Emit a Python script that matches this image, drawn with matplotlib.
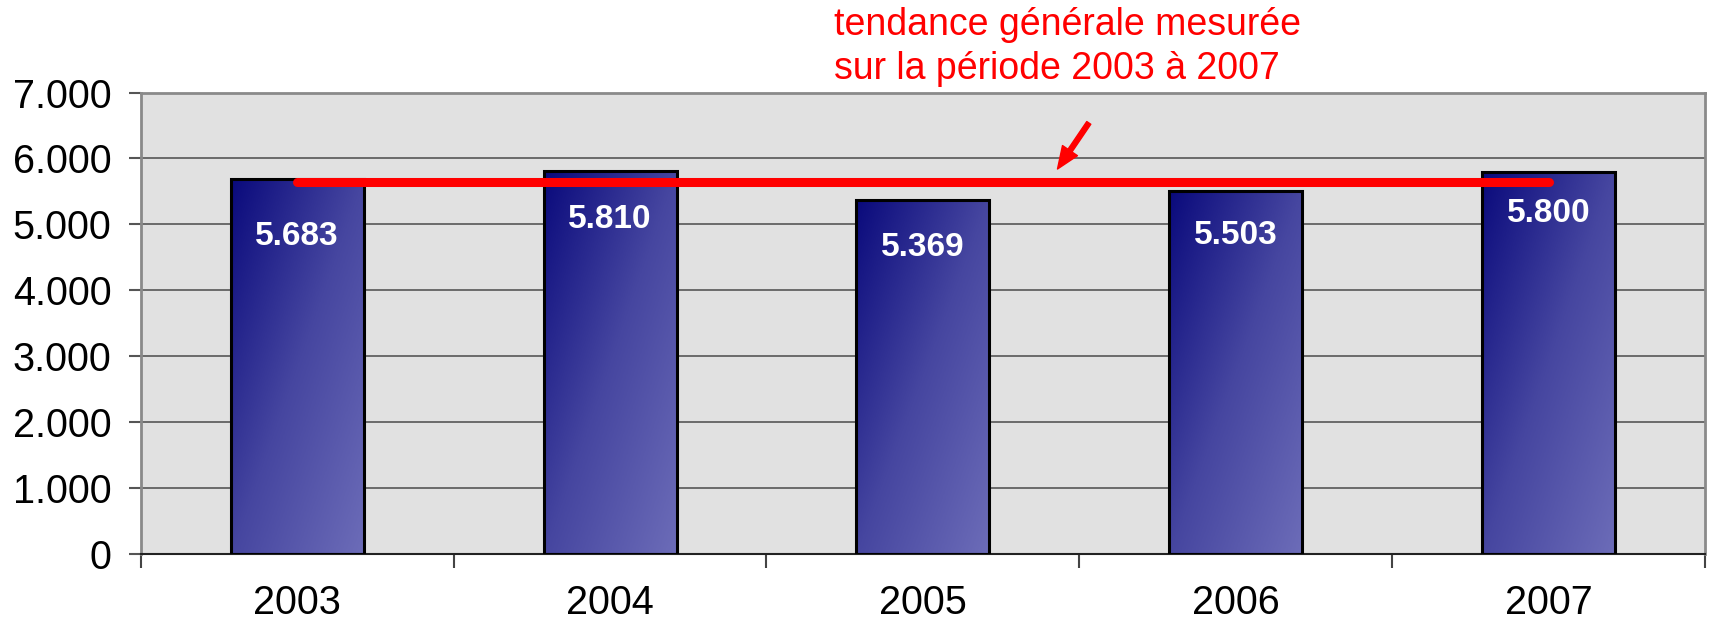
import matplotlib.pyplot as plt
import numpy as np
from matplotlib.colors import LinearSegmentedColormap

years = ['2003', '2004', '2005', '2006', '2007']
values = [5683, 5810, 5369, 5503, 5800]
value_labels = ['5.683', '5.810', '5.369', '5.503', '5.800']
y_ticks = [0, 1000, 2000, 3000, 4000, 5000, 6000, 7000]
y_tick_labels = ['0', '1.000', '2.000', '3.000', '4.000', '5.000', '6.000', '7.000']
trend_start = 5650
trend_end = 5650
note = 'tendance générale mesurée\nsur la période 2003 à 2007'

# how far below the bar top each white label sits (points)
label_drop = [41, 35, 34, 32, 30]

plt.rcParams['font.family'] = ['Liberation Sans', 'DejaVu Sans']

fig = plt.figure(figsize=(17.09, 6.24), dpi=100)
ax = fig.add_axes([0.0823, 0.1127, 0.9155, 0.7389])
ax.set_facecolor('#e1e1e1')

x = np.arange(len(years))
bar_w = 0.425

for yv in y_ticks[1:-1]:
    ax.axhline(yv, color='#4a4a4a', lw=1.1, zorder=1)

cmap = LinearSegmentedColormap.from_list('bar', ['#0a0a7c', '#4646a0', '#6c6cb8'])
u, v = np.meshgrid(np.linspace(0, 1, 60), np.linspace(0, 1, 200))
grad = (u + v) / 2  # row 0 is top when origin='upper'

bars = ax.bar(x, values, width=bar_w, facecolor='none', edgecolor='black',
              linewidth=2.2, zorder=3)
for b in bars:
    x0 = b.get_x()
    im = ax.imshow(grad, cmap=cmap, extent=[x0, x0 + b.get_width(), 0, b.get_height()],
                   aspect='auto', zorder=2, interpolation='bilinear')
    im.set_clip_path(b)
ax.set_xlim(-0.5, len(years) - 0.5)
ax.set_ylim(0, 7000)

for xi, val, lab, d in zip(x, values, value_labels, label_drop):
    ax.annotate(lab, (xi, val), xytext=(0, -d), textcoords='offset points',
                ha='center', va='center', color='white', fontsize=24,
                fontweight='bold', zorder=5)

ax.plot([x[0], x[-1]], [trend_start, trend_end], color='#ff0000', lw=6.5,
        solid_capstyle='round', zorder=6)

ax.annotate('', xy=(2.43, 5840), xytext=(2.53, 6540),
            arrowprops=dict(facecolor='#ff0000', edgecolor='#ff0000', width=3.5,
                            headwidth=13, headlength=16, shrink=0), zorder=7)

fig.text(0.488, 0.988, note, color='#ff0000', fontsize=27, ha='left', va='top',
         linespacing=1.26)

# axes styling
for s in ['left', 'top', 'right']:
    ax.spines[s].set_color('#8a8a8a')
    ax.spines[s].set_linewidth(2)
ax.spines['bottom'].set_color('#222222')
ax.spines['bottom'].set_linewidth(1.5)

ax.set_yticks(y_ticks)
ax.set_yticklabels(y_tick_labels, fontsize=28.5)
ax.tick_params(axis='y', length=9, width=1.5, color='#555555', pad=12)

ax.set_xticks(np.arange(-0.5, len(years)), minor=False)
ax.set_xticklabels([])
ax.tick_params(axis='x', which='major', length=10, width=1.5, color='#444444')
ax.set_xticks(x, minor=True)
ax.set_xticklabels(years, minor=True, fontsize=28.5)
ax.tick_params(axis='x', which='minor', length=0, pad=22)

fig.savefig('out.png', dpi=100)
